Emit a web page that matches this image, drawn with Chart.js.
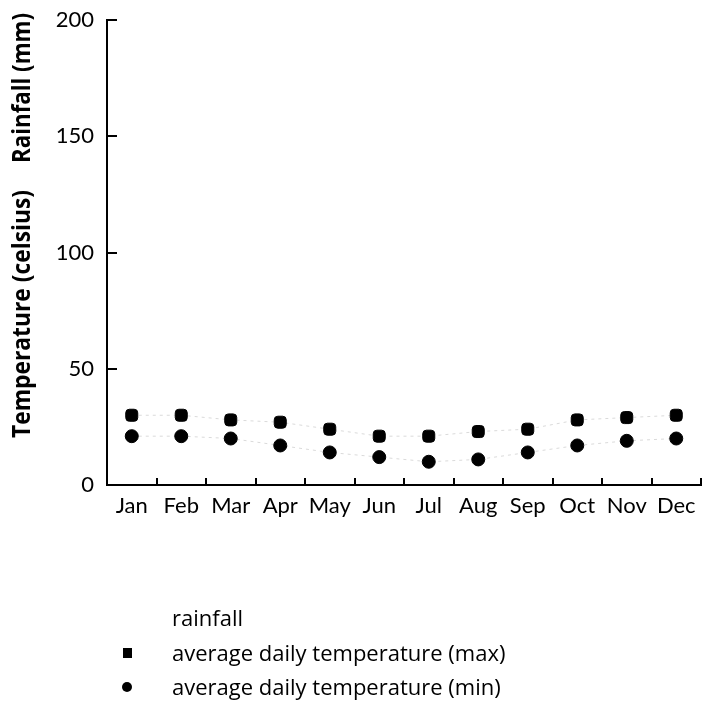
<!DOCTYPE html>
<html>
<head>
<meta charset="utf-8">
<script src="https://cdn.jsdelivr.net/npm/chart.js@4.4.0/dist/chart.umd.min.js"></script>
<style>
  html, body { margin: 0; padding: 0; background: #fff; }
  #wrap { width: 709px; height: 713px; position: relative; }
</style>
</head>
<body>
<div id="wrap"><canvas id="climateChart" width="709" height="713"></canvas></div>
<script>
// === DATA ===
const months = ['Jan', 'Feb', 'Mar', 'Apr', 'May', 'Jun', 'Jul', 'Aug', 'Sep', 'Oct', 'Nov', 'Dec'];
const rainfall = []; // no bars drawn in the reference
const tempMax = [30, 30, 28, 27, 24, 21, 21, 23, 24, 28, 29, 30];
const tempMin = [21, 21, 20, 17, 14, 12, 10, 11, 14, 17, 19, 20];
const yTicks = [0, 50, 100, 150, 200];

const FONT = 'Lato, "Open Sans", sans-serif';
const WIDE = '"Open Sans", Lato, sans-serif';
const INK = '#000';

// tick marks pointing into the plot, axis titles and the legend
const decorPlugin = {
  id: 'decor',
  afterDraw(chart) {
    const ctx = chart.ctx;
    const x = chart.scales.x;
    const y = chart.scales.y;
    const area = chart.chartArea;
    ctx.save();
    ctx.strokeStyle = INK;
    ctx.lineWidth = 2;
    // y ticks (inward)
    yTicks.forEach(v => {
      if (v === 0) return;
      const py = Math.round(y.getPixelForValue(v));
      ctx.beginPath();
      ctx.moveTo(area.left, py);
      ctx.lineTo(area.left + 10, py);
      ctx.stroke();
    });
    // x ticks at category boundaries (inward)
    for (let i = 1; i <= months.length; i++) {
      const px = Math.round(x.getPixelForValue(i - 0.5));
      ctx.beginPath();
      ctx.moveTo(px, area.bottom);
      ctx.lineTo(px, area.bottom - 7);
      ctx.stroke();
    }

    // y axis titles
    ctx.fillStyle = INK;
    ctx.textAlign = 'center';
    ctx.textBaseline = 'middle';
    ctx.save();
    ctx.font = 'bold 25px ' + WIDE;
    ctx.translate(23, 314);
    ctx.rotate(-Math.PI / 2);
    ctx.fillText('Temperature (celsius)', 0, 0, 248);
    ctx.restore();
    ctx.save();
    ctx.font = 'bold 25px ' + WIDE;
    ctx.translate(23, 88);
    ctx.rotate(-Math.PI / 2);
    ctx.fillText('Rainfall (mm)', 0, 0, 150);
    ctx.restore();

    // legend
    ctx.font = '22px ' + WIDE;
    ctx.textAlign = 'left';
    const rows = [620, 655, 689];
    chart.data.datasets.forEach((ds, i) => {
      const ry = rows[i];
      ctx.fillStyle = INK;
      if (ds.pointStyle === 'rectRounded') {
        ctx.fillRect(123, ry - 7, 9, 10);
      } else if (ds.pointStyle === 'circle') {
        ctx.beginPath();
        ctx.arc(127, ry - 2, 5, 0, Math.PI * 2);
        ctx.fill();
      }
      ctx.fillText(ds.label, 172, ry);
    });
    ctx.restore();
  }
};

// === CHART ===
const ctx = document.getElementById('climateChart').getContext('2d');
new Chart(ctx, {
  data: {
    labels: months,
    datasets: [
      { type: 'bar', label: 'rainfall', data: rainfall, backgroundColor: '#888' },
      {
        type: 'line', label: 'average daily temperature (max)', data: tempMax,
        pointStyle: 'rectRounded', pointRadius: 7, pointBackgroundColor: INK, pointBorderColor: INK,
        borderColor: 'rgba(0,0,0,0.15)', borderWidth: 1, borderDash: [3, 4]
      },
      {
        type: 'line', label: 'average daily temperature (min)', data: tempMin,
        pointStyle: 'circle', pointRadius: 6.5, pointBackgroundColor: INK, pointBorderColor: INK,
        borderColor: 'rgba(0,0,0,0.15)', borderWidth: 1, borderDash: [3, 4]
      }
    ]
  },
  options: {
    responsive: false,
    animation: false,
    layout: { padding: { top: 20, right: 2, left: 0, bottom: 0 } },
    plugins: { legend: { display: false }, tooltip: { enabled: false } },
    scales: {
      x: {
        offset: true,
        grid: { display: true, drawOnChartArea: false, drawTicks: false, offset: true, color: 'transparent' },
        border: { color: INK, width: 2 },
        ticks: { color: INK, font: { family: FONT, size: 22 }, padding: 8, maxRotation: 0 },
        afterFit(scale) { scale.height = 713 - 485; }
      },
      y: {
        min: 0, max: 200,
        afterBuildTicks(scale) { scale.ticks = yTicks.map(v => ({ value: v })); },
        grid: { drawOnChartArea: false, drawTicks: false, color: 'transparent' },
        border: { color: INK, width: 2 },
        ticks: { color: INK, font: { family: FONT, size: 22 }, padding: 13 },
        afterFit(scale) {
          scale.width = 107;
          scale.paddingTop = 0;
          scale.paddingBottom = 0;
        }
      }
    }
  },
  plugins: [decorPlugin]
});
</script>
</body>
</html>
